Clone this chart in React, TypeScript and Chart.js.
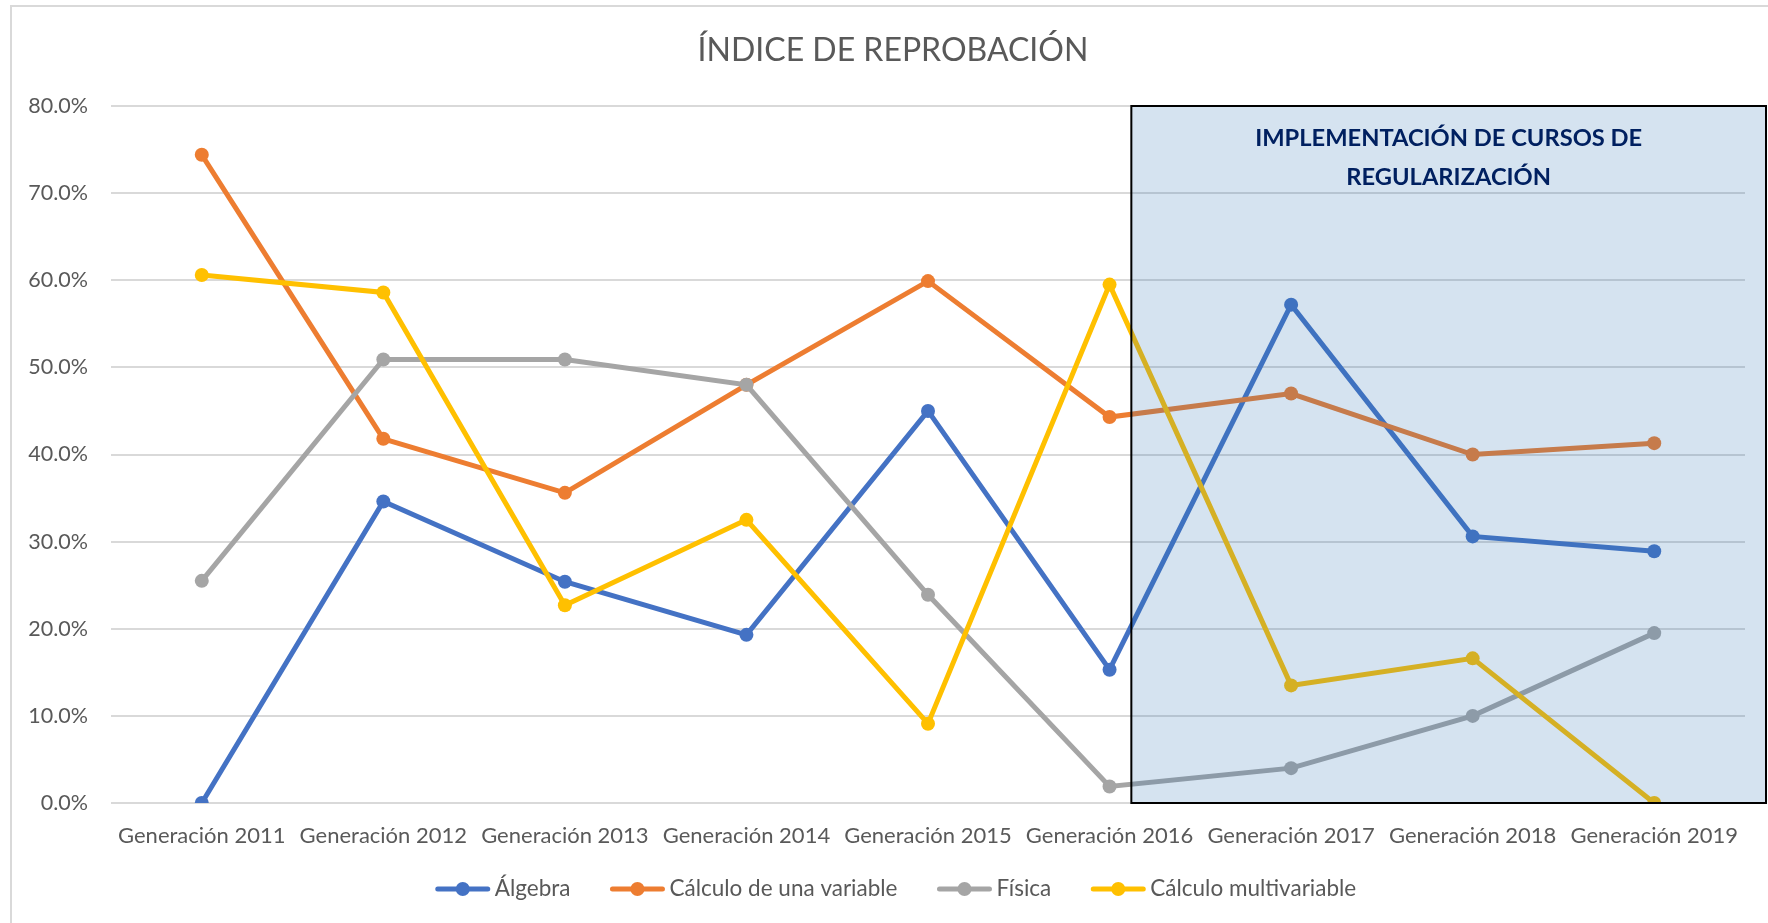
import React, { useEffect, useRef } from "react";
import { Chart, registerables } from "chart.js";

Chart.register(...registerables);

const categories = [
  "Generación 2011",
  "Generación 2012",
  "Generación 2013",
  "Generación 2014",
  "Generación 2015",
  "Generación 2016",
  "Generación 2017",
  "Generación 2018",
  "Generación 2019",
];
const algebra = [0, 34.6, 25.4, 19.3, 45.0, 15.3, 57.2, 30.6, 28.9];
const calculoUna = [74.4, 41.8, 35.6, 48.0, 59.9, 44.3, 47.0, 40.0, 41.3];
const fisica = [25.5, 50.9, 50.9, 48.0, 23.9, 1.9, 4.0, 10.0, 19.5];
const calculoMulti = [60.6, 58.6, 22.7, 32.5, 9.1, 59.5, 13.5, 16.6, 0];
const seriesNames = ["Álgebra", "Cálculo de una variable", "Física", "Cálculo multivariable"];
const seriesColors = ["#4472C4", "#ED7D31", "#A5A5A5", "#FFC000"];
const yMin = 0;
const yMax = 80;
const yStep = 10;
const titleText = "ÍNDICE DE REPROBACIÓN";
const boxLines = ["IMPLEMENTACIÓN DE CURSOS DE", "REGULARIZACIÓN"];
const boxStartIndex = 5; // box begins just after this category

const W = 1768;
const H = 923;
const FONT = "Lato, 'Open Sans', sans-serif";
const TEXT = "#595959";
const CENTER_X = 893;
const LEGEND_CENTER_X = 896;

export default function App() {
  const ref = useRef<HTMLCanvasElement | null>(null);

  useEffect(() => {
    const canvas = ref.current!;
    const seriesData = [algebra, calculoUna, fisica, calculoMulti];

    const bgPlugin = {
      id: "bgPlugin",
      beforeDraw(chart: any) {
        const ctx = chart.ctx;
        ctx.save();
        ctx.fillStyle = "#ffffff";
        ctx.fillRect(0, 0, chart.width, chart.height);
        ctx.strokeStyle = "#D9D9D9";
        ctx.lineWidth = 2;
        ctx.strokeRect(11, 6, chart.width + 20, chart.height + 20);
        ctx.fillStyle = TEXT;
        ctx.font = `32px ${FONT}`;
        ctx.textAlign = "center";
        ctx.textBaseline = "middle";
        ctx.fillText(titleText, CENTER_X, 51);
        ctx.restore();
      },
    };

    const boxPlugin = {
      id: "boxPlugin",
      afterDatasetsDraw(chart: any) {
        const ctx = chart.ctx;
        const x = chart.scales.x;
        const y = chart.scales.y;
        const step = x.getPixelForValue(1) - x.getPixelForValue(0);
        const left = x.getPixelForValue(boxStartIndex) + step * 0.12;
        const right = chart.width - 2;
        const top = y.getPixelForValue(yMax);
        const bottom = y.getPixelForValue(yMin);
        ctx.save();
        ctx.fillStyle = "rgba(46,117,182,0.2)";
        ctx.fillRect(left, top, right - left, bottom - top);
        ctx.strokeStyle = "#000000";
        ctx.lineWidth = 2;
        ctx.strokeRect(left, top, right - left, bottom - top);
        ctx.fillStyle = "#002060";
        ctx.font = `bold 23.7px ${FONT}`;
        ctx.textAlign = "center";
        ctx.textBaseline = "middle";
        const cx = (left + right) / 2;
        boxLines.forEach((t, i) => ctx.fillText(t, cx, top + 32 + i * 39));
        ctx.restore();
      },
    };

    const legendPlugin = {
      id: "legendPlugin",
      afterDraw(chart: any) {
        const ctx = chart.ctx;
        ctx.save();
        ctx.font = `22.5px ${FONT}`;
        const iconW = 54;
        const iconGap = 5;
        const itemGap = 40;
        const widths = seriesNames.map((n) => iconW + iconGap + ctx.measureText(n).width);
        const total = widths.reduce((a, b) => a + b, 0) + itemGap * (seriesNames.length - 1);
        let xPos = LEGEND_CENTER_X - total / 2;
        const yPos = 889;
        seriesNames.forEach((n, i) => {
          ctx.strokeStyle = seriesColors[i];
          ctx.lineWidth = 5;
          ctx.lineCap = "round";
          ctx.beginPath();
          ctx.moveTo(xPos + 2, yPos);
          ctx.lineTo(xPos + iconW - 2, yPos);
          ctx.stroke();
          ctx.fillStyle = seriesColors[i];
          ctx.beginPath();
          ctx.arc(xPos + iconW / 2, yPos, 7, 0, Math.PI * 2);
          ctx.fill();
          ctx.fillStyle = TEXT;
          ctx.textAlign = "left";
          ctx.textBaseline = "middle";
          ctx.fillText(n, xPos + iconW + iconGap, yPos);
          xPos += widths[i] + itemGap;
        });
        ctx.restore();
      },
    };

    const chart = new Chart(canvas, {
      type: "line",
      data: {
        labels: categories,
        datasets: seriesNames.map((name, i) => ({
          label: name,
          data: seriesData[i],
          borderColor: seriesColors[i],
          backgroundColor: seriesColors[i],
          borderWidth: 5,
          pointRadius: 7,
          pointBorderWidth: 0,
          pointBackgroundColor: seriesColors[i],
          tension: 0,
          fill: false,
          order: seriesNames.length - i,
        })),
      },
      options: {
        responsive: false,
        animation: false,
        devicePixelRatio: 1,
        layout: { padding: { left: 0, right: 23, top: 106, bottom: 60 } },
        plugins: {
          legend: { display: false },
          title: { display: false },
          tooltip: { enabled: false },
        },
        scales: {
          x: {
            type: "category",
            offset: true,
            grid: { display: false, drawTicks: false },
            border: { display: false },
            ticks: {
              color: TEXT,
              font: { family: FONT, size: 22 },
              padding: 20,
              maxRotation: 0,
              autoSkip: false,
            },
            afterFit(scale: any) {
              scale.height = 60;
            },
          },
          y: {
            min: yMin,
            max: yMax,
            grid: { color: "#D9D9D9", lineWidth: 2, drawTicks: false },
            border: { display: false },
            ticks: {
              stepSize: yStep,
              color: TEXT,
              font: { family: FONT, size: 21.5 },
              padding: 23,
              callback: (v: any) => Number(v).toFixed(1) + "%",
            },
            afterFit(scale: any) {
              scale.width = 111;
            },
          },
        },
      },
      plugins: [bgPlugin, boxPlugin, legendPlugin],
    } as any);

    return () => chart.destroy();
  }, []);

  return (
    <div style={{ position: "fixed", left: 0, top: 0, width: W, height: H, background: "#fff" }}>
      <canvas ref={ref} width={W} height={H} style={{ width: W, height: H, display: "block" }} />
    </div>
  );
}
